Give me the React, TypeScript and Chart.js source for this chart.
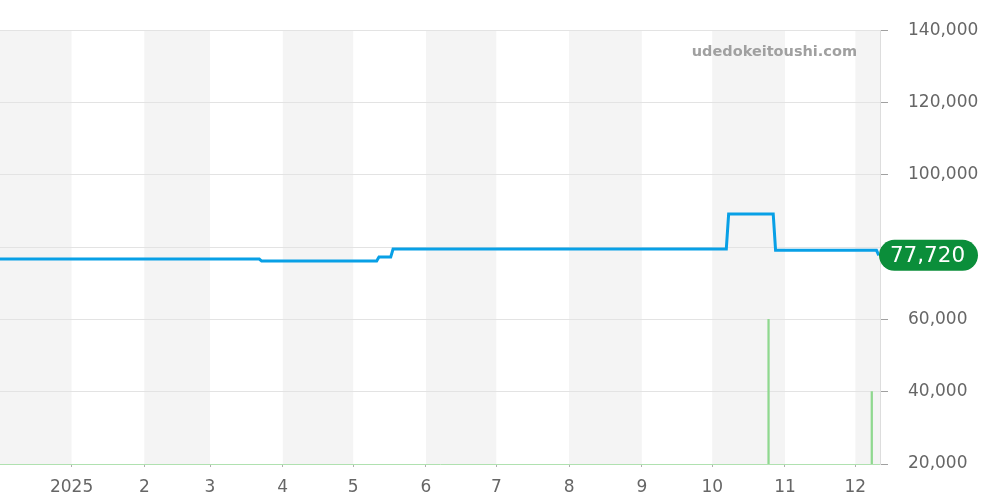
import React, { useEffect, useRef } from 'react';
import { Chart, registerables } from 'chart.js';

Chart.register(...registerables);

// Day offsets are counted from 2025-01-01 (day 0)
const monthStarts = [-31, 0, 31, 59, 90, 120, 151, 181, 212, 243, 273, 304, 334, 365];
const monthLabels = ['12', '2025', '2', '3', '4', '5', '6', '7', '8', '9', '10', '11', '12', '1'];
const shadedMonthStarts = [-31, 31, 90, 151, 212, 273, 334];

const priceDays = [-30.5, 80, 81, 130, 131, 136, 137, 279, 280, 299, 300, 343, 344];
const priceValues = [76700, 76700, 76130, 76130, 77240, 77240, 79450, 79450, 89130, 89130, 79100, 79100, 77720];

const volumeDays = [297, 341];
const volumeValues = [60000, 40000];

const yTickValues = [20000, 40000, 60000, 80000, 100000, 120000, 140000];

const xMin = -30.5;
const xMax = 344.5;
const watermark = 'udedokeitoushi.com';

const FONT = "'DejaVu Sans', sans-serif";

const bandsUnderGrid = {
  id: 'bandsUnder',
  beforeDraw(chart: any) {
    const { ctx, chartArea, scales } = chart;
    const x = scales.x;
    ctx.save();
    ctx.fillStyle = '#f4f4f4';
    shadedMonthStarts.forEach((s) => {
      const idx = monthStarts.indexOf(s);
      const e = monthStarts[idx + 1];
      const x1 = Math.max(chartArea.left, x.getPixelForValue(s));
      const x2 = Math.min(chartArea.right, x.getPixelForValue(e));
      if (x2 > x1) ctx.fillRect(x1, chartArea.top, x2 - x1, chartArea.bottom - chartArea.top);
    });
    ctx.restore();
  },
};

const overlayPlugin = {
  id: 'overlay',
  afterDraw(chart: any) {
    const { ctx, chartArea, scales } = chart;
    ctx.save();
    // watermark
    ctx.font = `bold 14.5px ${FONT}`;
    ctx.fillStyle = '#a0a0a0';
    ctx.textAlign = 'right';
    ctx.textBaseline = 'middle';
    ctx.fillText(watermark, chartArea.right - 23, 52);

    // last value pill
    const last = priceValues[priceValues.length - 1];
    const y = scales.y.getPixelForValue(last);
    const left = chartArea.right - 1;
    const w = 99;
    const h = 31;
    const r = h / 2;
    ctx.fillStyle = '#0b8e3a';
    ctx.beginPath();
    ctx.moveTo(left + r, y - r);
    ctx.lineTo(left + w - r, y - r);
    ctx.arc(left + w - r, y, r, -Math.PI / 2, Math.PI / 2);
    ctx.lineTo(left + r, y + r);
    ctx.arc(left + r, y, r, Math.PI / 2, (3 * Math.PI) / 2);
    ctx.closePath();
    ctx.fill();
    ctx.fillStyle = '#ffffff';
    ctx.font = `21.5px ${FONT}`;
    ctx.textAlign = 'center';
    ctx.textBaseline = 'middle';
    ctx.fillText(last.toLocaleString('en-US'), left + w / 2 - 1, y + 1);
    ctx.restore();
  },
};

export default function App() {
  const ref = useRef<HTMLCanvasElement | null>(null);

  useEffect(() => {
    if (!ref.current) return;
    const lastValue = priceValues[priceValues.length - 1];
    const chart = new Chart(ref.current, {
      type: 'line',
      data: {
        datasets: [
          {
            type: 'line',
            data: priceDays.map((d, i) => ({ x: d, y: priceValues[i] })),
            borderColor: '#08a0e6',
            borderWidth: 3,
            pointRadius: 0,
            tension: 0,
            fill: false,
            order: 1,
          } as any,
          {
            type: 'bar',
            data: volumeDays.map((d, i) => ({ x: d, y: volumeValues[i] })),
            backgroundColor: '#8fd88f',
            barThickness: 1.6,
            order: 2,
          } as any,
        ],
      },
      options: {
        animation: false,
        responsive: false,
        maintainAspectRatio: false,
        layout: { padding: { top: 30, left: 0, right: 0, bottom: 0 } },
        plugins: { legend: { display: false }, tooltip: { enabled: false } },
        scales: {
          x: {
            type: 'linear',
            min: xMin,
            max: xMax,
            offset: false,
            afterBuildTicks(scale: any) {
              scale.ticks = monthStarts
                .filter((v) => v >= xMin && v <= xMax)
                .map((v) => ({ value: v }));
            },
            afterFit(scale: any) {
              scale.height = 36;
            },
            ticks: {
              autoSkip: false,
              maxRotation: 0,
              padding: 10,
              color: '#666',
              font: { family: FONT, size: 17 },
              callback: (v: any) => {
                const i = monthStarts.indexOf(Number(v));
                return i >= 0 ? monthLabels[i] : '';
              },
            },
            grid: {
              offset: false,
              drawOnChartArea: false,
              drawTicks: true,
              tickLength: 3,
              tickColor: '#b0b0b0',
            },
            border: { display: true, color: 'rgba(150,215,150,0.75)', dash: [1, 1], width: 1 },
          },
          y: {
            type: 'linear',
            position: 'right',
            min: 20000,
            max: 140000,
            afterBuildTicks(scale: any) {
              scale.ticks = yTickValues.map((v) => ({ value: v }));
            },
            afterFit(scale: any) {
              scale.width = 120;
            },
            ticks: {
              padding: 20,
              color: '#666',
              font: { family: FONT, size: 17 },
              callback: (v: any) =>
                Math.abs(Number(v) - lastValue) < 6000 ? '' : Number(v).toLocaleString('en-US'),
            },
            grid: {
              color: (c: any) => (c.tick && c.tick.value === 20000 ? 'rgba(0,0,0,0)' : '#e3e3e3'),
              tickColor: '#a0a0a0',
              tickLength: 8,
              lineWidth: 1,
            },
            border: { display: true, color: '#dddddd' },
          },
        },
      } as any,
      plugins: [bandsUnderGrid, overlayPlugin],
    });
    return () => chart.destroy();
  }, []);

  return (
    <div style={{ position: 'absolute', left: 0, top: 0, width: 1000, height: 500 }}>
      <canvas ref={ref} width={1000} height={500} style={{ width: 1000, height: 500 }} />
    </div>
  );
}
